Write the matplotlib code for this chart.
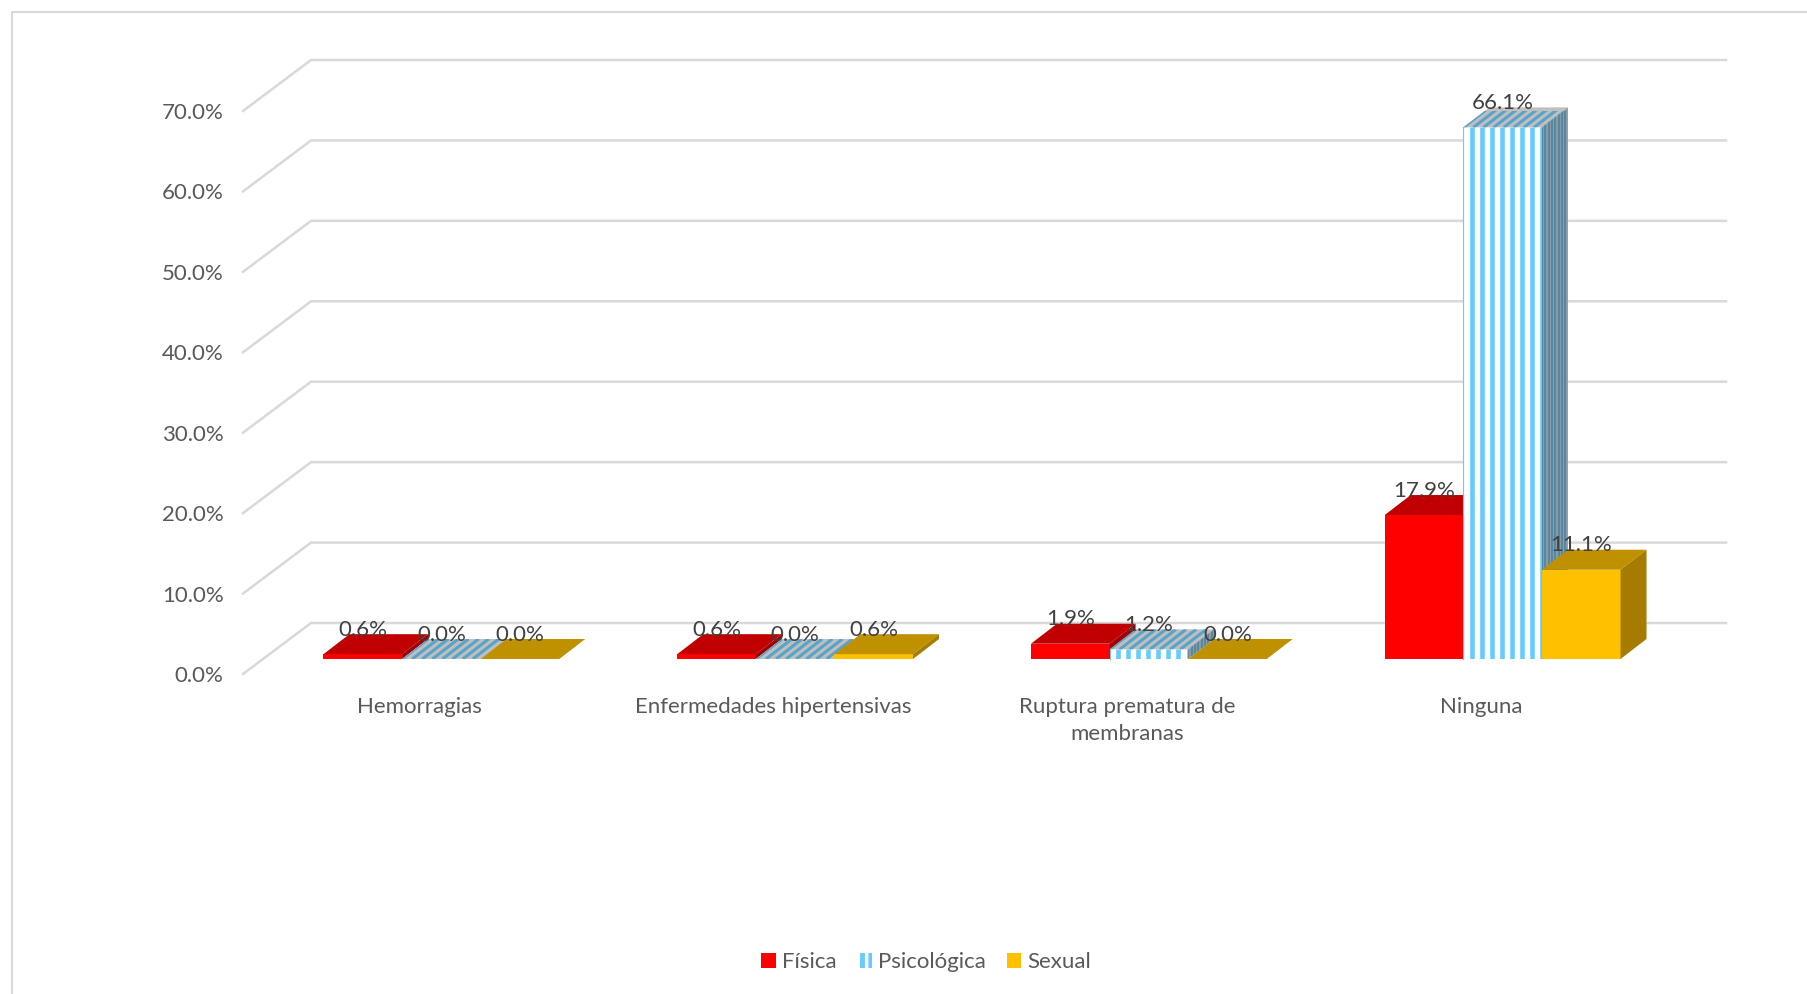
import matplotlib
matplotlib.use('Agg')
import matplotlib.pyplot as plt
from matplotlib.collections import LineCollection
from matplotlib.lines import Line2D
from matplotlib.patches import Patch, Polygon

categories = ['Hemorragias', 'Enfermedades hipertensivas',
              'Ruptura prematura de\nmembranas', 'Ninguna']
fisica = [0.6, 0.6, 1.9, 17.9]
psicologica = [0.0, 0.0, 1.2, 66.1]
sexual = [0.0, 0.6, 0.0, 11.1]
y_ticks = [0, 10, 20, 30, 40, 50, 60, 70]

W, H = 1807, 994
AX_L, AX_R, AX_B, AX_T = 243, 1658, 674, 111     # front wall, in pixels
PX_X = (AX_R - AX_L) / 4.0                       # pixels per category
PX_Y = (AX_B - AX_T) / 70.0                      # pixels per percent

# 3D fake: everything in data units derived from the pixel sizes above
WALL_DX, WALL_DY = 68 / PX_X, 51 / PX_Y
BAR_W = 78.6 / PX_X
BAR_DX, BAR_DY = 26 / PX_X, 20 / PX_Y
FLOOR = 15 / PX_Y
GROUP_SHIFT = 21.5 / PX_X
PERIOD = 10.1 / PX_X

GRID = '#D9D9D9'
BLUE = '#66CCFF'
FS = 16

plt.rcParams['font.family'] = ['Lato', 'DejaVu Sans']
plt.rcParams['hatch.linewidth'] = 3.5

fig = plt.figure(figsize=(W / 100, H / 100), dpi=100)
ax = fig.add_axes([AX_L / W, 1 - AX_B / H, (AX_R - AX_L) / W, (AX_B - AX_T) / H])
ax.set_xlim(-0.5, 3.5)
ax.set_ylim(0, 70)
for s in ax.spines.values():
    s.set_visible(False)

ax.set_yticks(y_ticks, [f'{t:.1f}%' for t in y_ticks], fontsize=FS, color='#595959')
ax.set_xticks(range(4), categories, fontsize=FS, color='#595959', linespacing=1.45)
ax.tick_params(axis='y', length=0, pad=14)
ax.tick_params(axis='x', length=0, pad=16.5)
ax.patch.set_visible(False)

# back wall grid + left wall diagonals
for t in y_ticks:
    ax.plot([-0.5, -0.5 + WALL_DX, 3.5 + WALL_DX], [t, t + WALL_DY, t + WALL_DY],
            color=GRID, lw=1.8, clip_on=False, zorder=1, solid_joinstyle='miter')


def face(verts, color, z):
    p = Polygon(verts, closed=True, facecolor=color, edgecolor='none', clip_on=False, zorder=z)
    ax.add_patch(p)
    return p


def stripes(clip, segs, color, lw, z):
    lc = LineCollection(segs, colors=color, linewidths=lw, zorder=z, capstyle='butt')
    ax.add_collection(lc, autolim=False)
    lc.set_clip_path(clip)


def solid_bar(x, v, front, top, side, z):
    y0, y1 = FLOOR, FLOOR + v
    ax.bar(x, v, BAR_W, bottom=FLOOR, color=front, linewidth=0, align='edge', zorder=z)
    face([(x, y1), (x + BAR_W, y1), (x + BAR_W + BAR_DX, y1 + BAR_DY), (x + BAR_DX, y1 + BAR_DY)], top, z)
    face([(x + BAR_W, y0), (x + BAR_W + BAR_DX, y0 + BAR_DY),
          (x + BAR_W + BAR_DX, y1 + BAR_DY), (x + BAR_W, y1)], side, z)


def striped_bar(x, v, z):
    y0, y1 = FLOOR, FLOOR + v
    n = int(BAR_W / PERIOD) + 1
    if v > 0:
        front = face([(x, y0), (x + BAR_W, y0), (x + BAR_W, y1), (x, y1)], 'white', z)
        segs = [[(x + (8.3 / PX_X) + k * PERIOD, y0), (x + (8.3 / PX_X) + k * PERIOD, y1)] for k in range(n)]
        stripes(front, segs, BLUE, 3.3, z)
        ax.plot([x, x], [y0, y1], color=BLUE, lw=0.8, zorder=z)
    top = face([(x, y1), (x + BAR_W, y1), (x + BAR_W + BAR_DX, y1 + BAR_DY), (x + BAR_DX, y1 + BAR_DY)],
               '#BFBFBF', z)
    # top stripes follow the depth direction, started well left so the whole face is covered
    segs = [[(x + (k - 3) * PERIOD, y1), (x + (k - 3) * PERIOD + BAR_DX, y1 + BAR_DY)] for k in range(n + 4)]
    stripes(top, segs, '#57A3C9', 2.2, z)
    if v > 0:
        side = face([(x + BAR_W, y0), (x + BAR_W + BAR_DX, y0 + BAR_DY),
                     (x + BAR_W + BAR_DX, y1 + BAR_DY), (x + BAR_W, y1)], '#8C9BA3', z)
        p = PERIOD * BAR_DX / BAR_W
        segs = [[(x + BAR_W + k * p, y0), (x + BAR_W + k * p, y1 + BAR_DY)] for k in range(n)]
        stripes(side, segs, '#4A85A3', 1.2, z)


for i in range(4):
    x0 = i - 1.5 * BAR_W + GROUP_SHIFT
    xs = [x0 + j * BAR_W for j in range(3)]
    vals = [fisica[i], psicologica[i], sexual[i]]
    solid_bar(xs[0], vals[0], '#FF0000', '#C00000', '#A00000', 3)
    striped_bar(xs[1], vals[1], 4)
    solid_bar(xs[2], vals[2], '#FFC000', '#BF9000', '#A67C00', 5)
    for x, v in zip(xs, vals):
        ax.annotate(f'{v:.1f}%', xy=(x + BAR_W / 2, FLOOR + v), xytext=(0, 17.5),
                    textcoords='offset points', ha='center', va='center',
                    fontsize=FS, color='#404040', zorder=10, annotation_clip=False)

handles = [Patch(facecolor='#FF0000', linewidth=0),
           Patch(facecolor='white', edgecolor=BLUE, hatch='||', linewidth=0),
           Patch(facecolor='#FFC000', linewidth=0)]
fig.legend(handles, ['Física', 'Psicológica', 'Sexual'], ncol=3, frameon=False,
           loc='center', bbox_to_anchor=(926 / W, 1 - 962 / H), fontsize=FS,
           labelcolor='#595959', handlelength=0.66, handleheight=0.66,
           handletextpad=0.26, columnspacing=0.95, borderpad=0, borderaxespad=0)

# chart area border, cut by the image on the right and bottom
fig.add_artist(Line2D([12 / W, 12 / W, 1], [0, 1 - 12 / H, 1 - 12 / H], color=GRID, lw=1.5))

fig.savefig('out.png', dpi=100)
